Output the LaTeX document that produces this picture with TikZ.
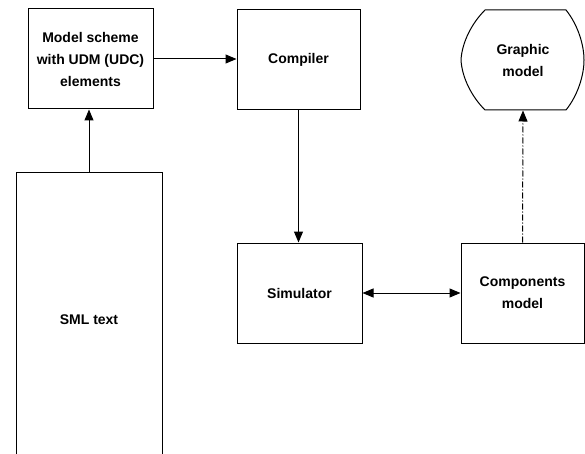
\documentclass[tikz,border=0pt]{standalone}
\usepackage{fontspec}
\setmainfont{Liberation Sans}
\usetikzlibrary{arrows.meta}

\tikzset{
  block/.style={draw, line width=1pt, align=center, inner sep=0pt,
    font=\fontsize{14pt}{22pt}\selectfont\bfseries},
  flow/.style={line width=1pt, -{Triangle[length=11pt,width=9pt]}},
}

\begin{document}
\begin{tikzpicture}[x=1pt, y=-1pt]
\useasboundingbox (0,0) rectangle (585,454);

% boxes
\node[block, minimum width=125pt, minimum height=100pt] (scheme) at (90.5,59)
  {Model scheme\\with UDM (UDC)\\elements};
\node[block, minimum width=123pt, minimum height=100pt] (compiler) at (298.5,60) {Compiler};
\node[block, minimum width=125pt, minimum height=100pt] (simulator) at (299.5,293) {Simulator};
\node[block, minimum width=123pt, minimum height=100pt] (components) at (522.5,293)
  {Components\\model};
\node[block, minimum width=146pt, minimum height=294pt] (sml) at (89,320) {SML text};

% display shape
\node[block, draw=none, minimum width=123pt, minimum height=100pt] (graphic) at (523,60)
  {Graphic\\model};
\draw[line width=1pt] (485,10) -- (566,10)
  .. controls (578,25) and (584,45) .. (584,60)
  .. controls (584,75) and (578,95) .. (566,110) -- (485,110)
  .. controls (472,97) and (462,78) .. (461,60)
  .. controls (462,42) and (472,23) .. (485,10) -- cycle;

% connectors
\draw[flow] (scheme.east) -- (compiler.west |- scheme.east);
\draw[flow] (sml.north) -- (sml.north |- scheme.south);
\draw[flow] (compiler.south) -- (simulator.north -| compiler.south);
\draw[flow, {Triangle[length=11pt,width=9pt]}-{Triangle[length=11pt,width=9pt]}]
  (simulator.east) -- (components.west);
\draw[flow, dash pattern=on 6pt off 2pt on 1pt off 2pt]
  (components.north) -- (graphic.south);
\end{tikzpicture}
\end{document}
